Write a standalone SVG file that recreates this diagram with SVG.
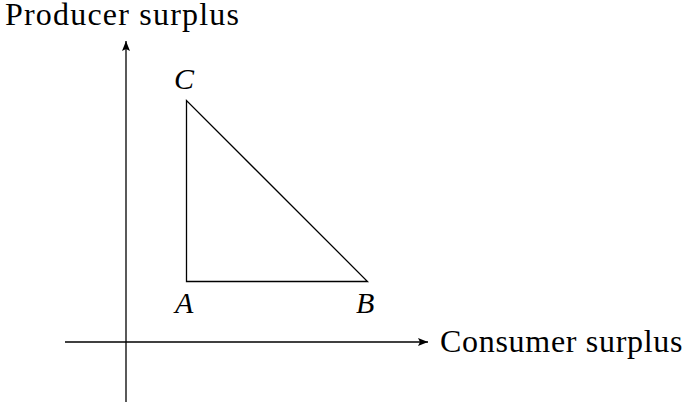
<svg xmlns="http://www.w3.org/2000/svg" width="686" height="405" viewBox="0 0 686 405">
<style>
.ln{stroke:#000;stroke-width:1.3;fill:none}
text{font-size:32px;fill:#000}
.pt{font-style:italic;font-size:30px}
</style>
<defs>
<marker id="arr" viewBox="0 0 10 8" refX="10" refY="4" markerWidth="10" markerHeight="8" markerUnits="userSpaceOnUse" orient="auto">
<path d="M0,0 L10,4 L0,8 L2,4 Z" fill="#000"/>
</marker>
</defs>
<g id="connectors">
<line class="ln" x1="126" y1="402" x2="126" y2="41" marker-end="url(#arr)"/>
<line class="ln" x1="65" y1="342" x2="428" y2="342" marker-end="url(#arr)"/>
</g>
<g id="triangle">
<path class="ln" d="M186.5,281.5 L367.5,281.5 L186.5,100.5 Z"/>
</g>
<g id="A"><text class="pt" x="175" y="313" font-family="'Liberation Serif', 'DejaVu Serif', serif">A</text></g>
<g id="B"><text class="pt" x="356" y="313" font-family="'Liberation Serif', 'DejaVu Serif', serif">B</text></g>
<g id="C"><text class="pt" x="174" y="89" font-family="'Liberation Serif', 'DejaVu Serif', serif">C</text></g>
<g id="ylabel"><text x="5" y="25" font-family="'Liberation Serif', 'DejaVu Serif', serif" letter-spacing="1.2">Producer surplus</text></g>
<g id="xlabel"><text x="440" y="352" font-family="'Liberation Serif', 'DejaVu Serif', serif" letter-spacing="0.7">Consumer surplus</text></g>
</svg>
